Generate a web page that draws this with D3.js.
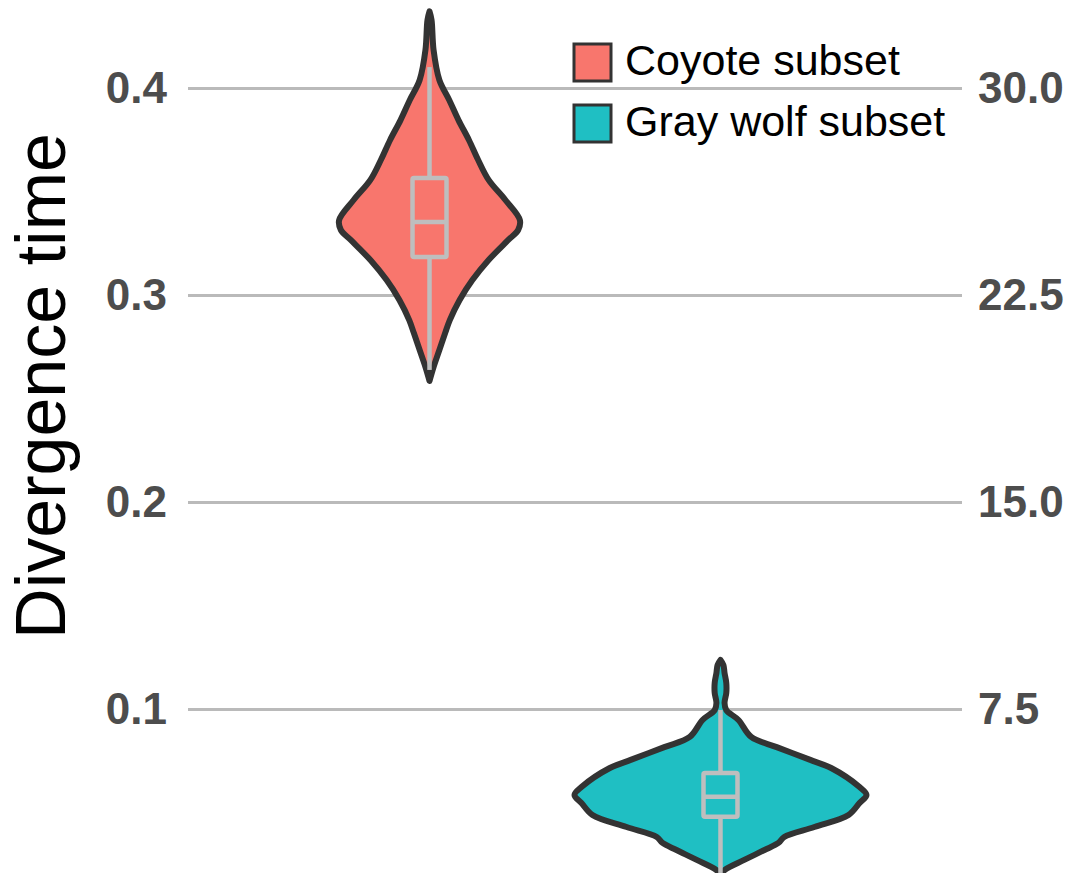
<!DOCTYPE html>
<html>
<head>
<meta charset="utf-8">
<script src="https://cdn.jsdelivr.net/npm/d3@7"></script>
<style>
  html, body { margin: 0; padding: 0; background: #ffffff; }
  svg { display: block; font-family: "Liberation Sans", Arial, Helvetica, sans-serif; }
</style>
</head>
<body>
<svg id="chart" width="1073" height="873"></svg>
<script>
// Groups shown on the x axis (and in the legend)
const groups = ["Coyote subset", "Gray wolf subset"];
const groupColors = ["#F8766D", "#1FBFC3"];

// Kernel density profile of each group: sample values and estimated density
const coyoteValues  = [0.4370, 0.4329, 0.4184, 0.4039, 0.3942, 0.3845, 0.3749, 0.3652, 0.3556, 0.3459,
                       0.3362, 0.3314, 0.3266, 0.3169, 0.3072, 0.2976, 0.2879, 0.2816, 0.2734, 0.2652, 0.2585];
const coyoteDensity = [0, 0.35, 0.7, 1.7, 3.4, 5.0, 6.8, 8.4, 10.2, 13.1,
                       15.6, 15.3, 13.6, 10.2, 7.4, 5.2, 3.5, 2.7, 1.7, 0.7, 0];

const wolfValues  = [0.1237, 0.1213, 0.1174, 0.1126, 0.1077, 0.1029, 0.0995, 0.0947, 0.0865, 0.0816,
                     0.0754, 0.0715, 0.0623, 0.0585, 0.0546, 0.0488, 0.0430, 0.0382, 0.0353, 0.0319,
                     0.0271, 0.0222, 0.0200];
const wolfDensity = [0, 0.5, 0.7, 1.0, 1.0, 0.7, 1.0, 3.1, 5.3, 9.7,
                     15.5, 19.1, 24.0, 25.2, 24.0, 22.1, 16.2, 11.0, 10.0, 7.6,
                     4.1, 0.7, 0];

// Box plot summaries: [lower whisker, Q1, median, Q3, upper whisker]
const coyoteBox = [0.2638, 0.3184, 0.3353, 0.3565, 0.4101];
const wolfBox   = [0.0205, 0.0480, 0.0576, 0.0691, 0.0995];

// Axis ticks: divergence (left) and the same axis rescaled to time (right)
const leftTicks  = [0.1, 0.2, 0.3, 0.4];
const rightTicks = [7.5, 15.0, 22.5, 30.0];
const yTitle = "Divergence time";

// ---- layout ----
const svg = d3.select("#chart");
const panel = { left: 188, right: 962, top: 0, bottom: 873 };

const y = d3.scaleLinear().domain([0.1, 0.4]).range([709, 88]);
const y2 = d3.scaleLinear().domain([7.5, 30.0]).range([709, 88]);
const x = d3.scalePoint().domain(groups).range([panel.left, panel.right]).padding(0.83);
const w = d3.scaleLinear()
  .domain([0, d3.max([...coyoteDensity, ...wolfDensity])])
  .range([0, 146]);

svg.append("rect").attr("width", 1073).attr("height", 873).attr("fill", "#ffffff");

// ---- gridlines + left axis ----
const leftAxis = d3.axisLeft(y)
  .tickValues(leftTicks)
  .tickFormat(d3.format(".1f"))
  .tickSizeInner(-(panel.right - panel.left))
  .tickSizeOuter(0)
  .tickPadding(21);

const gL = svg.append("g").attr("transform", `translate(${panel.left},0)`).call(leftAxis);
gL.select(".domain").remove();
gL.selectAll(".tick line").attr("stroke", "#bababa").attr("stroke-width", 2.8);
gL.selectAll(".tick text")
  .attr("fill", "#4d4d4d")
  .attr("font-size", 44)
  .attr("font-weight", "bold")
  .attr("font-family", "'Liberation Sans', Arial, sans-serif");

// ---- right axis ----
const rightAxis = d3.axisRight(y2)
  .tickValues(rightTicks)
  .tickFormat(d3.format(".1f"))
  .tickSize(0)
  .tickPadding(16);
const gR = svg.append("g").attr("transform", `translate(${panel.right},0)`).call(rightAxis);
gR.select(".domain").remove();
gR.selectAll(".tick text")
  .attr("fill", "#4d4d4d")
  .attr("font-size", 44)
  .attr("font-weight", "bold")
  .attr("font-family", "'Liberation Sans', Arial, sans-serif");

// ---- y title ----
svg.append("text")
  .attr("transform", "translate(65,386) rotate(-90)")
  .attr("text-anchor", "middle")
  .attr("font-size", 70)
  .attr("fill", "#000000")
  .text(yTitle);

// ---- violins ----
const violinSets = [
  { group: groups[0], values: coyoteValues, density: coyoteDensity, box: coyoteBox, color: groupColors[0] },
  { group: groups[1], values: wolfValues,   density: wolfDensity,   box: wolfBox,   color: groupColors[1] }
];

const plot = svg.append("g");

violinSets.forEach(s => {
  const cx = x(s.group);
  const pts = s.values.map((v, i) => ({ v, d: s.density[i] }));
  const area = d3.area()
    .y(p => y(p.v))
    .x0(p => cx - w(p.d))
    .x1(p => cx + w(p.d))
    .curve(d3.curveCatmullRom.alpha(0.5));

  plot.append("path")
    .datum(pts)
    .attr("d", area)
    .attr("fill", s.color)
    .attr("stroke", "#333333")
    .attr("stroke-width", 6)
    .attr("stroke-linejoin", "round");

  // box plot inside the violin
  const [lo, q1, med, q3, hi] = s.box;
  const bw = 34;
  const boxG = plot.append("g")
    .attr("stroke", "#bebebe")
    .attr("stroke-width", 4.5);

  boxG.append("line")
    .attr("x1", cx).attr("x2", cx)
    .attr("y1", y(hi)).attr("y2", y(q3));
  boxG.append("line")
    .attr("x1", cx).attr("x2", cx)
    .attr("y1", y(q1)).attr("y2", y(lo));
  boxG.append("rect")
    .attr("x", cx - bw / 2)
    .attr("y", y(q3))
    .attr("width", bw)
    .attr("height", y(q1) - y(q3))
    .attr("fill", s.color)
    .attr("stroke-linejoin", "round")
    .attr("rx", 1.5);
  boxG.append("line")
    .attr("x1", cx - bw / 2).attr("x2", cx + bw / 2)
    .attr("y1", y(med)).attr("y2", y(med));
});

// ---- legend ----
const legend = svg.append("g");
groups.forEach((g, i) => {
  const top = 44 + i * 61;
  legend.append("rect")
    .attr("x", 574).attr("y", top)
    .attr("width", 37).attr("height", 37)
    .attr("fill", groupColors[i])
    .attr("stroke", "#333333")
    .attr("stroke-width", 3);
  legend.append("text")
    .attr("x", 625).attr("y", top + 31)
    .attr("font-size", 43)
    .attr("fill", "#000000")
    .text(g);
});
</script>
</body>
</html>
